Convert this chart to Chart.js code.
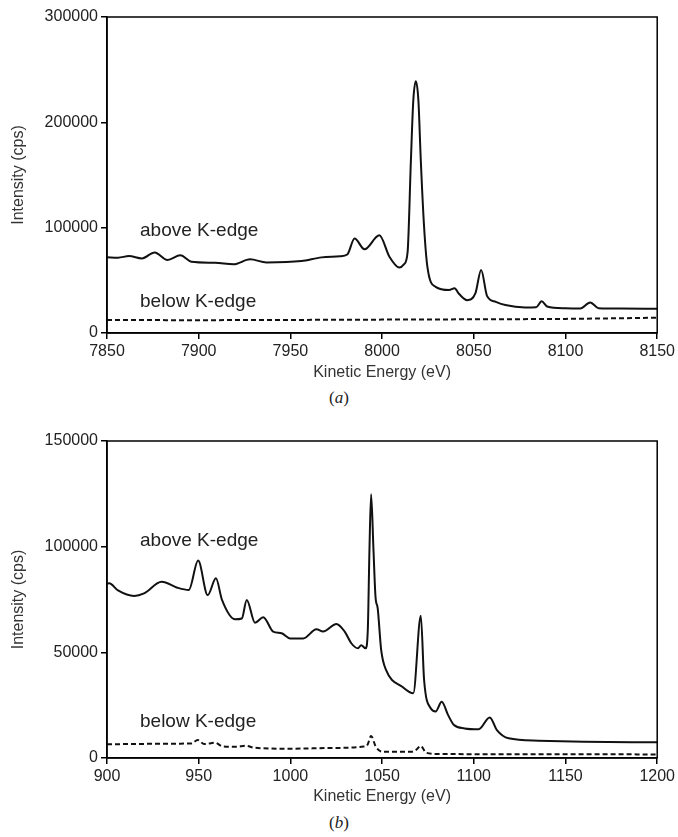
<!DOCTYPE html>
<html>
<head>
<meta charset="utf-8">
<script src="https://cdn.jsdelivr.net/npm/chart.js@4/dist/chart.umd.min.js"></script>
<style>
  body { margin: 0; background: #fff; width: 678px; height: 837px; position: relative; overflow: hidden; }
  .wrap { position: absolute; left: 0; width: 678px; }
  .cap { position: absolute; left: 0; width: 678px; text-align: center;
         font-family: "Liberation Serif", "DejaVu Serif", serif; font-size: 17px; color: #222; }
</style>
</head>
<body>
<div class="wrap" style="top:0;height:386px"><canvas id="chartA" width="678" height="386"></canvas></div>
<div class="cap" style="top:388px">(<i>a</i>)</div>
<div class="wrap" style="top:424px;height:386px"><canvas id="chartB" width="678" height="386"></canvas></div>
<div class="cap" style="top:813px">(<i>b</i>)</div>

<script>
// ── (a) Cu K-edge region ─────────────────────────────────────────────────
const A_ABOVE_E = [7850, 7856, 7862, 7869, 7876, 7883, 7890, 7896, 7909, 7919, 7928, 7937, 7956, 7967,
  7977, 7981, 7985, 7990.4, 7998.5, 8004, 8009.4, 8012, 8013.9, 8015.7, 8017, 8018.4, 8019.8, 8021.1,
  8022.9, 8024.7, 8029.2, 8036.5, 8039.5, 8042, 8046.4, 8050.9, 8054, 8057.2, 8062, 8067.2, 8078, 8084,
  8087, 8090, 8100, 8108, 8113.5, 8118, 8130, 8150];
const A_ABOVE_I = [71800, 71500, 73000, 70800, 76500, 69300, 73700, 67700, 66700, 65200, 69900, 67000, 68300, 71800,
  72800, 74500, 89700, 79500, 92700, 72400, 62200, 65300, 76700, 163800, 220500, 239000, 220500, 163800,
  100600, 62700, 43800, 40800, 42400, 37000, 31200, 37900, 59900, 35300, 29500, 26500, 24300, 24500,
  30200, 25200, 23500, 23300, 29000, 23600, 23200, 23000];
const A_BELOW_E = [7850, 7900, 7950, 8000, 8050, 8100, 8150];
const A_BELOW_I = [12300, 12200, 12400, 12700, 13000, 13400, 14500];

// ── (b) lower energy region ──────────────────────────────────────────────
const B_ABOVE_E = [900, 901.2, 906, 914.8, 920.2, 929.8, 938.3, 944.6, 949.7, 954.9, 959.4, 962.7, 969.9,
  973.5, 976.2, 980.7, 985.2, 990.6, 995.2, 999.8, 1007, 1014.2, 1017.8, 1025.1, 1029.6, 1033.2, 1036.8,
  1038.6, 1041, 1042.2, 1043.1, 1044, 1045.3, 1046.4, 1047.6, 1049.5, 1052.2, 1061, 1067, 1071.1, 1072.9,
  1076.5, 1079.2, 1082.5, 1086, 1089.2, 1095, 1102.7, 1108.7, 1112.6, 1119, 1135.2, 1160, 1200];
const B_ABOVE_I = [82500, 82700, 79300, 76700, 77900, 83400, 80600, 79500, 93400, 77100, 85000, 74800, 65600,
  66000, 74800, 64000, 66600, 59800, 59000, 56600, 56600, 60900, 59800, 63400, 59800, 54300, 51900,
  53400, 51900, 60600, 98400, 124800, 98400, 76300, 70800, 51100, 41600, 33700, 30600, 67300, 36900,
  23500, 22000, 26600, 20300, 15600, 14000, 13600, 19200, 13200, 9300, 8200, 7700, 7400];
const B_BELOW_E = [900, 940, 946, 949.5, 953, 959, 963, 970, 976, 980, 1000, 1020, 1040, 1042, 1044, 1046.5,
  1050, 1066, 1068.5, 1071, 1074, 1080, 1120, 1200];
const B_BELOW_I = [6500, 6800, 6900, 8500, 6600, 7200, 5500, 5300, 5800, 4900, 4400, 4700, 5400, 6200, 10400, 5500,
  3000, 3000, 3800, 5700, 2500, 1900, 1800, 1700];

const TEXT_COLOR = '#222';
const SANS = "'Liberation Sans', Arial, sans-serif";

function pts(xs, ys) {
  return xs.map((x, i) => ({ x, y: ys[i] }));
}

// box round the plot + the "above/below K-edge" notes
const framePlugin = {
  id: 'frame',
  afterDraw(chart, args, opts) {
    const { ctx, chartArea: a, scales } = chart;
    ctx.save();
    ctx.strokeStyle = '#000';
    ctx.lineWidth = 1.5;
    ctx.strokeRect(a.left, a.top, a.right - a.left, a.bottom - a.top);
    ctx.fillStyle = '#222';
    ctx.font = '19px ' + SANS;
    ctx.textBaseline = 'middle';
    (opts.notes || []).forEach((n) => {
      ctx.fillText(n.text, scales.x.getPixelForValue(n.x), scales.y.getPixelForValue(n.y));
    });
    ctx.restore();
  },
};

function makeChart(id, cfg) {
  const canvas = document.getElementById(id);
  const plotBottom = cfg.plotBottom;
  return new Chart(canvas.getContext('2d'), {
    type: 'line',
    data: {
      datasets: [
        {
          data: pts(cfg.aboveE, cfg.aboveI),
          borderColor: '#111',
          borderWidth: 2,
          pointRadius: 0,
          cubicInterpolationMode: 'monotone',
          fill: false,
        },
        {
          data: pts(cfg.belowE, cfg.belowI),
          borderColor: '#111',
          borderWidth: 2,
          borderDash: [5, 3],
          pointRadius: 0,
          cubicInterpolationMode: 'monotone',
          fill: false,
        },
      ],
    },
    plugins: [framePlugin],
    options: {
      responsive: false,
      animation: false,
      devicePixelRatio: 1,
      layout: { autoPadding: false, padding: { top: cfg.plotTop, right: 19, left: 0, bottom: 0 } },
      plugins: {
        legend: { display: false },
        tooltip: { enabled: false },
        frame: { notes: cfg.notes },
      },
      scales: {
        x: {
          type: 'linear',
          min: cfg.xMin,
          max: cfg.xMax,
          ticks: { stepSize: 50, color: TEXT_COLOR, font: { family: SANS, size: 16 }, padding: 3, maxRotation: 0,
                   callback: (v) => String(v) },
          grid: { drawOnChartArea: false, drawTicks: true, tickLength: 6, color: '#000', lineWidth: 1.5 },
          border: { display: true, color: '#000', width: 1.5 },
          title: { display: true, text: 'Kinetic Energy (eV)', color: '#333', font: { family: SANS, size: 16 }, padding: { top: 2, bottom: 4 } },
          afterFit: (s) => { s.height = canvas.height - plotBottom; },
        },
        y: {
          min: 0,
          max: cfg.yMax,
          ticks: { stepSize: cfg.yStep, color: TEXT_COLOR, font: { family: SANS, size: 16 }, padding: 3,
                   callback: (v) => String(v) },
          grid: { drawOnChartArea: false, drawTicks: true, tickLength: 6, color: '#000', lineWidth: 1.5 },
          border: { display: true, color: '#000', width: 1.5 },
          title: { display: true, text: 'Intensity (cps)', color: '#333', font: { family: SANS, size: 16 }, padding: { top: 9, bottom: 4 } },
          afterFit: (s) => { s.width = 107; },
        },
      },
    },
  });
}

makeChart('chartA', {
  aboveE: A_ABOVE_E, aboveI: A_ABOVE_I, belowE: A_BELOW_E, belowI: A_BELOW_I,
  xMin: 7850, xMax: 8150, yMax: 300000, yStep: 100000, plotTop: 17, plotBottom: 333,
  notes: [
    { text: 'above K-edge', x: 7868, y: 97400 },
    { text: 'below K-edge', x: 7868, y: 29600 },
  ],
});

makeChart('chartB', {
  aboveE: B_ABOVE_E, aboveI: B_ABOVE_I, belowE: B_BELOW_E, belowI: B_BELOW_I,
  xMin: 900, xMax: 1200, yMax: 150000, yStep: 50000, plotTop: 17, plotBottom: 334,
  notes: [
    { text: 'above K-edge', x: 918, y: 102800 },
    { text: 'below K-edge', x: 918, y: 17200 },
  ],
});
</script>
</body>
</html>
